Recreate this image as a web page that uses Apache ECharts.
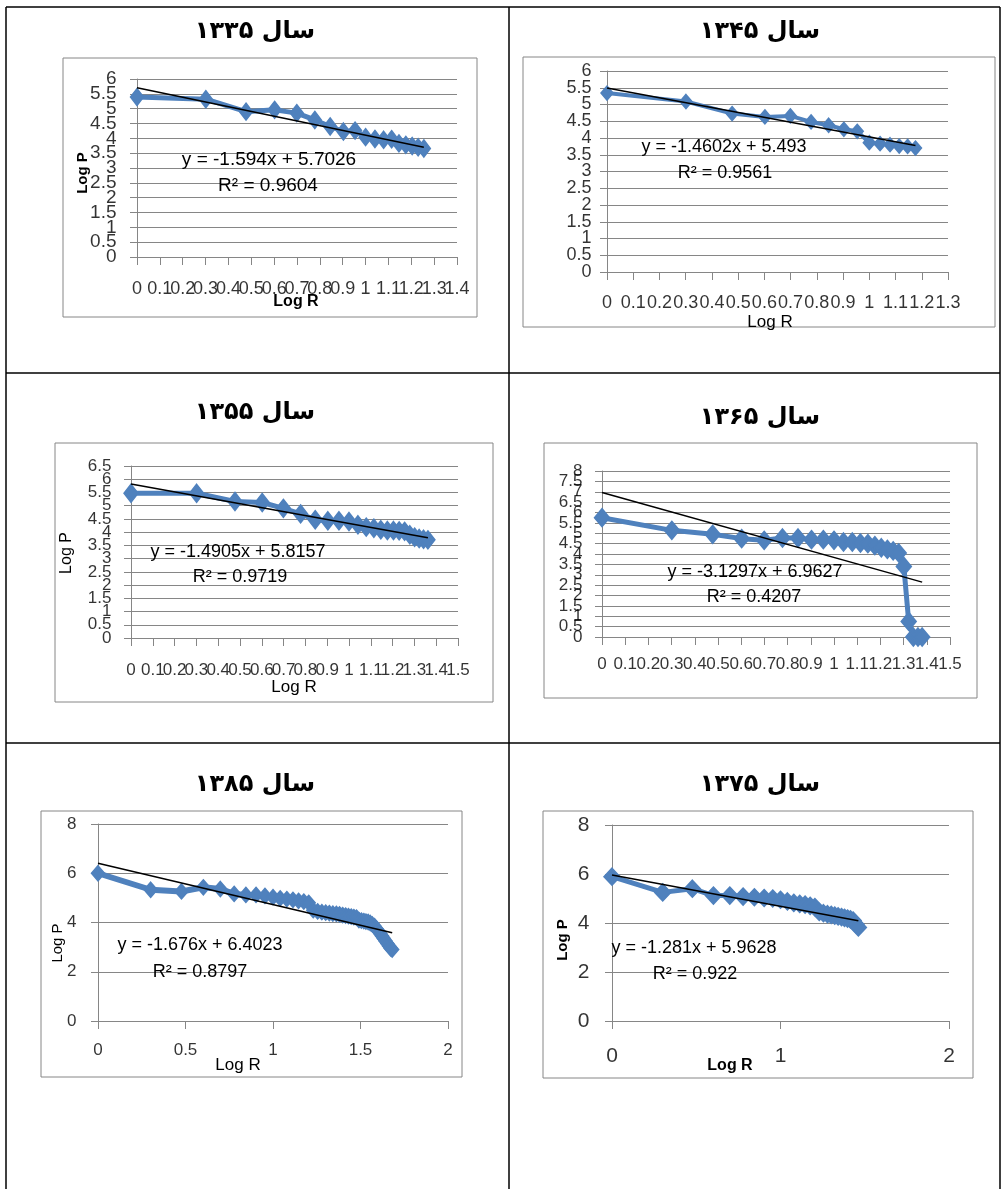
<!DOCTYPE html>
<html><head><meta charset="utf-8">
<script src="https://cdn.jsdelivr.net/npm/echarts@6/dist/echarts.min.js"></script>
<style>html,body{margin:0;padding:0;background:#fff}#c{width:1003px;height:1189px}</style>
</head><body><div id="c"></div>
<script>
// ---------- DATA ----------
const titles = ['سال ۱۳۳۵', 'سال ۱۳۴۵', 'سال ۱۳۵۵', 'سال ۱۳۶۵', 'سال ۱۳۸۵', 'سال ۱۳۷۵'];

const logR1335 = [0, 0.301, 0.477, 0.602, 0.699, 0.778, 0.845, 0.903, 0.954, 1.0, 1.041, 1.079, 1.114, 1.146, 1.176, 1.204, 1.230, 1.255];
const logP1335 = [5.39, 5.32, 4.90, 4.96, 4.85, 4.62, 4.40, 4.23, 4.26, 4.04, 3.98, 3.95, 3.97, 3.83, 3.78, 3.74, 3.70, 3.66];

const logR1345 = [0, 0.301, 0.477, 0.602, 0.699, 0.778, 0.845, 0.903, 0.954, 1.0, 1.041, 1.079, 1.114, 1.146, 1.176];
const logP1345 = [5.34, 5.09, 4.73, 4.63, 4.66, 4.48, 4.38, 4.26, 4.20, 3.86, 3.83, 3.80, 3.76, 3.75, 3.70];

const logR1355 = [0, 0.301, 0.477, 0.602, 0.699, 0.778, 0.845, 0.903, 0.954, 1.0, 1.041, 1.079, 1.114, 1.146, 1.176, 1.204, 1.230, 1.255, 1.279, 1.301, 1.322, 1.342, 1.362];
const logP1355 = [5.47, 5.47, 5.16, 5.12, 4.90, 4.69, 4.47, 4.43, 4.43, 4.40, 4.28, 4.19, 4.15, 4.09, 4.06, 4.06, 4.05, 4.03, 3.90, 3.81, 3.76, 3.73, 3.71];

const logR1365 = [0, 0.301, 0.477, 0.602, 0.699, 0.778, 0.845, 0.903, 0.954, 1.0, 1.041, 1.079, 1.114, 1.146, 1.176, 1.204, 1.230, 1.255, 1.279, 1.301, 1.322, 1.342, 1.362, 1.380];
const logP1365 = [5.75, 5.14, 4.95, 4.74, 4.66, 4.77, 4.77, 4.69, 4.69, 4.66, 4.58, 4.58, 4.53, 4.50, 4.40, 4.30, 4.22, 4.15, 4.05, 3.40, 0.75, 0, 0, 0];

const logR1385 = [0, 0.301, 0.477, 0.602, 0.699, 0.778, 0.845, 0.903, 0.954, 1.0, 1.041, 1.079, 1.114, 1.146, 1.176, 1.204, 1.230, 1.255, 1.279, 1.301, 1.322, 1.342, 1.362, 1.380, 1.398, 1.415, 1.431, 1.447, 1.462, 1.477, 1.491, 1.505, 1.519, 1.531, 1.544, 1.556, 1.568, 1.580, 1.591, 1.602, 1.613, 1.623, 1.633, 1.643, 1.653, 1.663, 1.672, 1.681];
const logP1385 = [6.00, 5.33, 5.26, 5.43, 5.36, 5.16, 5.12, 5.12, 5.08, 5.03, 4.98, 4.95, 4.92, 4.88, 4.85, 4.80, 4.50, 4.45, 4.42, 4.40, 4.38, 4.36, 4.35, 4.33, 4.30, 4.28, 4.26, 4.24, 4.22, 4.20, 4.10, 4.08, 4.06, 4.04, 4.02, 3.98, 3.92, 3.85, 3.75, 3.65, 3.55, 3.45, 3.35, 3.25, 3.15, 3.05, 2.95, 2.90];

const logR1375 = [0, 0.301, 0.477, 0.602, 0.699, 0.778, 0.845, 0.903, 0.954, 1.0, 1.041, 1.079, 1.114, 1.146, 1.176, 1.204, 1.230, 1.255, 1.279, 1.301, 1.322, 1.342, 1.362, 1.380, 1.398, 1.415, 1.431, 1.447, 1.462];
const logP1375 = [5.89, 5.25, 5.40, 5.12, 5.12, 5.08, 5.05, 5.02, 5.00, 4.95, 4.88, 4.82, 4.78, 4.75, 4.70, 4.65, 4.45, 4.40, 4.36, 4.33, 4.30, 4.27, 4.24, 4.21, 4.18, 4.15, 4.10, 3.95, 3.82];

const slopes = [-1.594, -1.4602, -1.4905, -3.1297, -1.676, -1.281];
const intercepts = [5.7026, 5.493, 5.8157, 6.9627, 6.4023, 5.9628];
const rSquared = ['0.9604', '0.9561', '0.9719', '0.4207', '0.8797', '0.922'];

// tick labels
const xTicksA = ['0','0.1','0.2','0.3','0.4','0.5','0.6','0.7','0.8','0.9','1','1.1','1.2','1.3','1.4'];
const xTicksB = ['0','0.1','0.2','0.3','0.4','0.5','0.6','0.7','0.8','0.9','1','1.1','1.2','1.3'];
const xTicksC = ['0','0.1','0.2','0.3','0.4','0.5','0.6','0.7','0.8','0.9','1','1.1','1.2','1.3','1.4','1.5'];
const xTicksD = ['0','0.5','1','1.5','2'];
const xTicksE = ['0','1','2'];
const yTicks6 = ['0','0.5','1','1.5','2','2.5','3','3.5','4','4.5','5','5.5','6'];
const yTicks65 = ['0','0.5','1','1.5','2','2.5','3','3.5','4','4.5','5','5.5','6','6.5'];
const yTicks8h = ['0','0.5','1','1.5','2','2.5','3','3.5','4','4.5','5','5.5','6','6.5','7','7.5','8'];
const yTicks8 = ['0','2','4','6','8'];

const xTickSets = [xTicksA, xTicksB, xTicksC, xTicksC, xTicksD, xTicksE];
const yTickSets = [yTicks6, yTicks6, yTicks65, yTicks8h, yTicks8, yTicks8];
const xStep = [0.1, 0.1, 0.1, 0.1, 0.5, 1];
const yStep = [0.5, 0.5, 0.5, 0.5, 2, 2];

const xs = [logR1335, logR1345, logR1355, logR1365, logR1385, logR1375];
const ys = [logP1335, logP1345, logP1355, logP1365, logP1385, logP1375];

// ---------- LAYOUT / STYLE ----------
const LAY = [
  {grid:[137,79,320,178], box:[63,58,414,259], title:[255,32], eq:[269,160], r2:[268,186], eqSize:19,
   ylab:19, xlab:18, ym:20, xm:23, sym:[13,17], lw:5,
   xname:{t:'Log R', p:[296,302], b:true, s:16}, yname:{t:'Log P', p:[83,173], b:true, s:15}},
  {grid:[607,71,341,201], box:[523,57,472,270], title:[760,32], eq:[724,147], r2:[725,173], eqSize:18,
   ylab:18, xlab:18, ym:15, xm:22, sym:[12,14], lw:4,
   xname:{t:'Log R', p:[770,322], b:false, s:17}, yname:null},
  {grid:[131,466,327,172], box:[55,443,438,259], title:[255,413], eq:[238,552], r2:[240,577], eqSize:18,
   ylab:17, xlab:17, ym:19, xm:23, sym:[14,18], lw:5,
   xname:{t:'Log R', p:[294,687], b:false, s:17}, yname:{t:'Log P', p:[67,553], b:false, s:16}},
  {grid:[602,471,348,166], box:[544,443,433,255], title:[760,418], eq:[755,572], r2:[754,597], eqSize:18,
   ylab:17, xlab:17, ym:19, xm:18, sym:[15,18], lw:5,
   xname:null, yname:null},
  {grid:[98,824,350,197], box:[41,811,421,266], title:[255,785], eq:[200,945], r2:[200,972], eqSize:18,
   ylab:17, xlab:17, ym:21, xm:20, sym:[13,15], lw:6,
   xname:{t:'Log R', p:[238,1065], b:false, s:17}, yname:{t:'Log P', p:[58,943], b:false, s:15}},
  {grid:[612,825,337,196], box:[543,811,430,267], title:[760,785], eq:[694,948], r2:[695,974], eqSize:18,
   ylab:21, xlab:21, ym:22, xm:24, sym:[16,17], lw:5,
   xname:{t:'Log R', p:[730,1066], b:true, s:16}, yname:{t:'Log P', p:[563,940], b:true, s:15}}
];

const FONT = '"Liberation Sans", Arial, sans-serif';
const GRAY = '#868686';
const BLUE = '#4F81BD';

const grids = [], xAxes = [], yAxes = [], series = [], graphics = [];

const tbl = [
  [6,7,1000,7],[6,7,6,1189],[1000,7,1000,1189],[509,7,509,1189],[6,373,1000,373],[6,743,1000,743]
];
tbl.forEach(l => graphics.push({type:'line', shape:{x1:l[0],y1:l[1],x2:l[2],y2:l[3]}, style:{stroke:'#000', lineWidth:1.5}, silent:true}));

LAY.forEach((L, i) => {
  const xT = xTickSets[i], yT = yTickSets[i];
  const xMin = parseFloat(xT[0]), xMaxV = parseFloat(xT[xT.length-1]);
  const yMin = parseFloat(yT[0]), yMaxV = parseFloat(yT[yT.length-1]);
  grids.push({left:L.grid[0], top:L.grid[1], width:L.grid[2], height:L.grid[3], containLabel:false, outerBoundsMode:'none'});
  xAxes.push({
    type:'value', gridIndex:i, min:xMin, max:xMaxV, interval:xStep[i],
    axisLine:{show:true, onZero:false, lineStyle:{color:GRAY, width:1}},
    axisTick:{show:true, inside:false, length:8, lineStyle:{color:GRAY, width:1}},
    axisLabel:{show:false}, splitLine:{show:false}, minorTick:{show:false}
  });
  yAxes.push({
    type:'value', gridIndex:i, min:yMin, max:yMaxV, interval:yStep[i],
    axisLine:{show:true, onZero:false, lineStyle:{color:GRAY, width:1}},
    axisTick:{show:true, inside:false, length:7, lineStyle:{color:GRAY, width:1}},
    axisLabel:{show:false},
    splitLine:{show:true, lineStyle:{color:GRAY, width:1}}
  });
  series.push({
    type:'scatter', xAxisIndex:i, yAxisIndex:i, clip:false, silent:true, animation:false,
    data:xT.map(t => ({value:[parseFloat(t), yMin], name:t})),
    symbol:'circle', symbolSize:1, itemStyle:{color:'rgba(0,0,0,0)'},
    label:{show:true, position:'bottom', distance:L.xm, formatter:p => p.name, color:'#000', fontFamily:FONT, fontSize:L.xlab}
  });
  series.push({
    type:'scatter', xAxisIndex:i, yAxisIndex:i, clip:false, silent:true, animation:false,
    data:yT.map(t => ({value:[xMin, parseFloat(t)], name:t})),
    symbol:'circle', symbolSize:1, itemStyle:{color:'rgba(0,0,0,0)'},
    label:{show:true, position:'left', distance:L.ym, formatter:p => p.name, color:'#000', fontFamily:FONT, fontSize:L.ylab}
  });
  const pts = xs[i].map((x, k) => [x, ys[i][k]]);
  series.push({
    type:'line', xAxisIndex:i, yAxisIndex:i, data:pts, clip:false,
    symbol:'diamond', symbolSize:L.sym, showAllSymbol:true,
    itemStyle:{color:BLUE, borderColor:BLUE, borderWidth:1.5}, lineStyle:{color:BLUE, width:L.lw}, z:3, animation:false, silent:true
  });
  const x0 = xs[i][0], x1 = xs[i][xs[i].length-1];
  series.push({
    type:'line', xAxisIndex:i, yAxisIndex:i, clip:false,
    data:[[x0, intercepts[i] + slopes[i]*x0], [x1, intercepts[i] + slopes[i]*x1]],
    symbol:'none', lineStyle:{color:'#000', width:1.5}, z:4, animation:false, silent:true
  });
  graphics.push({type:'rect', shape:{x:L.box[0], y:L.box[1], width:L.box[2], height:L.box[3]}, style:{fill:null, stroke:GRAY, lineWidth:1}, silent:true, z:-1});
  graphics.push({type:'text', x:L.title[0], y:L.title[1], style:{text:titles[i], font:'bold 24px "DejaVu Sans", sans-serif', fill:'#000', align:'center', verticalAlign:'middle'}, silent:true});
  const sgn = intercepts[i] >= 0 ? ' + ' : ' - ';
  graphics.push({type:'text', x:L.eq[0], y:L.eq[1], style:{text:'y = ' + slopes[i] + 'x' + sgn + Math.abs(intercepts[i]), font:L.eqSize + 'px ' + FONT, fill:'#000', align:'center', verticalAlign:'middle'}, silent:true, z:10});
  graphics.push({type:'text', x:L.r2[0], y:L.r2[1], style:{text:'R² = ' + rSquared[i], font:L.eqSize + 'px ' + FONT, fill:'#000', align:'center', verticalAlign:'middle'}, silent:true, z:10});
  if (L.xname) graphics.push({type:'text', x:L.xname.p[0], y:L.xname.p[1], style:{text:L.xname.t, font:(L.xname.b?'bold ':'') + L.xname.s + 'px ' + FONT, fill:'#000', align:'center', verticalAlign:'middle'}, silent:true, z:10});
  if (L.yname) graphics.push({type:'text', x:L.yname.p[0], y:L.yname.p[1], rotation:Math.PI/2, style:{text:L.yname.t, font:(L.yname.b?'bold ':'') + L.yname.s + 'px ' + FONT, fill:'#000', align:'center', verticalAlign:'middle'}, silent:true, z:10});
});

const chart = echarts.init(document.getElementById('c'), null, {renderer:'canvas', width:1003, height:1189});
chart.setOption({
  animation:false, backgroundColor:'#fff',
  grid:grids, xAxis:xAxes, yAxis:yAxes, series:series,
  graphic:{elements:graphics}
});
</script></body></html>
